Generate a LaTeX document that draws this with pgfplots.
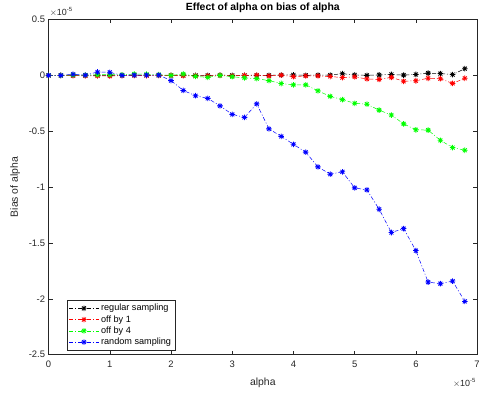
\documentclass[border=0pt]{standalone}
\usepackage{pgfplots}
\pgfplotsset{compat=1.18}
\usepackage{pgfplotstable}
\usepackage{fontspec}
\setmainfont{Liberation Sans}
\usetikzlibrary{calc}

\definecolor{axgray}{rgb}{0.15,0.15,0.15}

% eight-spoke asterisk marker
\pgfdeclareplotmark{matstar}{%
  \pgfpathmoveto{\pgfqpoint{-\pgfplotmarksize}{0pt}}%
  \pgfpathlineto{\pgfqpoint{\pgfplotmarksize}{0pt}}%
  \pgfpathmoveto{\pgfqpoint{0pt}{-\pgfplotmarksize}}%
  \pgfpathlineto{\pgfqpoint{0pt}{\pgfplotmarksize}}%
  \pgfpathmoveto{\pgfqpoint{-0.707\pgfplotmarksize}{-0.707\pgfplotmarksize}}%
  \pgfpathlineto{\pgfqpoint{0.707\pgfplotmarksize}{0.707\pgfplotmarksize}}%
  \pgfpathmoveto{\pgfqpoint{-0.707\pgfplotmarksize}{0.707\pgfplotmarksize}}%
  \pgfpathlineto{\pgfqpoint{0.707\pgfplotmarksize}{-0.707\pgfplotmarksize}}%
  \pgfusepathqstroke}

% bias of alpha (units of 1e-5) against alpha (units of 1e-5)
\pgfplotstableread{
x y
0.0 0
0.2 0
0.4 0
0.6 0
0.8 0
1.0 0
1.2 0
1.4 0
1.6 0
1.8 0
2.0 0
2.2 0
2.4 0
2.6 0
2.8 0.002
3.0 0
3.2 0
3.4 0
3.6 0
3.8 0.003
4.0 0.004
4.2 0
4.4 0.003
4.6 0.003
4.8 0.015
5.0 0.004
5.2 0
5.4 0.004
5.6 0.008
5.8 0.002
6.0 0.008
6.2 0.020
6.4 0.016
6.6 0.007
6.8 0.060
}\regular

\pgfplotstableread{
x y
0.0 0
0.2 0
0.4 -0.003
0.6 -0.004
0.8 -0.005
1.0 -0.006
1.2 -0.002
1.4 0
1.6 -0.002
1.8 0
2.0 0
2.2 -0.003
2.4 -0.005
2.6 -0.005
2.8 0
3.0 -0.005
3.2 0
3.4 0.002
3.6 -0.005
3.8 0.002
4.0 -0.012
4.2 -0.005
4.4 -0.005
4.6 -0.010
4.8 -0.020
5.0 -0.014
5.2 -0.032
5.4 -0.036
5.6 -0.018
5.8 -0.053
6.0 -0.048
6.2 -0.026
6.4 -0.030
6.6 -0.072
6.8 -0.026
}\offone

\pgfplotstableread{
x y
0.0 0
0.2 0
0.4 0.004
0.6 0.002
0.8 0.006
1.0 0.006
1.2 0.005
1.4 0.012
1.6 0.010
1.8 0.006
2.0 0
2.2 0.012
2.4 -0.009
2.6 -0.018
2.8 0
3.0 -0.012
3.2 -0.023
3.4 -0.029
3.6 -0.047
3.8 -0.073
4.0 -0.085
4.2 -0.085
4.4 -0.138
4.6 -0.188
4.8 -0.217
5.0 -0.250
5.2 -0.258
5.4 -0.311
5.6 -0.355
5.8 -0.434
6.0 -0.487
6.2 -0.490
6.4 -0.581
6.6 -0.646
6.8 -0.670
}\offfour

\pgfplotstableread{
x y
0.0 0
0.2 0
0.4 0.010
0.6 0.002
0.8 0.030
1.0 0.027
1.2 0
1.4 0.003
1.6 0.003
1.8 0.003
2.0 -0.047
2.2 -0.135
2.4 -0.182
2.6 -0.206
2.8 -0.273
3.0 -0.349
3.2 -0.376
3.4 -0.255
3.6 -0.479
3.8 -0.546
4.0 -0.617
4.2 -0.687
4.4 -0.819
4.6 -0.884
4.8 -0.863
5.0 -1.007
5.2 -1.025
5.4 -1.198
5.6 -1.406
5.8 -1.371
6.0 -1.568
6.2 -1.850
6.4 -1.864
6.6 -1.841
6.8 -2.023
}\randomsamp

\begin{document}
\begin{tikzpicture}
\begin{axis}[
  name=ax,
  scale only axis,
  width=432pt, height=338pt,
  xmin=0, xmax=7, ymin=-2.5, ymax=0.5,
  xtick={0,1,...,7},
  ytick={-2.5,-2,-1.5,-1,-0.5,0,0.5},
  yticklabels={-2.5,-2,-1.5,-1,-0.5,0,0.5},
  xticklabels={0,1,2,3,4,5,6,7},
  tick align=inside,
  major tick length=4pt,
  axis line style={axgray, line width=0.5pt},
  every tick/.style={axgray, line width=0.5pt},
  tick label style={font=\fontsize{9.5}{10}\selectfont, text=axgray},
  xticklabel style={yshift=-3pt},
  title={\textbf{Effect of alpha on bias of alpha}},
  title style={font=\fontsize{10.5}{12}\selectfont, yshift=-3pt},
  xlabel={alpha}, ylabel={Bias of alpha},
  label style={font=\fontsize{10.5}{12}\selectfont, text=axgray},
  xlabel style={yshift=-3pt},
  ylabel style={yshift=2pt},
  legend cell align=left,
  legend style={at={(0.042,0.013)}, anchor=south west,
    draw=axgray, line width=0.5pt, font=\fontsize{9.2}{10}\selectfont,
    row sep=-0.8pt, inner sep=2pt},
  legend image code/.code={%
    \draw[mark repeat=2, mark phase=2]
      plot coordinates {(0pt,0pt) (15pt,0pt) (30pt,0pt)};},
  every axis plot/.append style={line width=0.5pt,
    dash pattern=on 4pt off 2pt on 1pt off 2pt,
    mark=matstar, mark size=2.8pt,
    mark options={solid, line width=0.8pt}},
]
\addplot[black] table {\regular};
\addlegendentry{regular sampling}
\addplot[red] table {\offone};
\addlegendentry{off by 1}
\addplot[green] table {\offfour};
\addlegendentry{off by 4}
\addplot[blue] table {\randomsamp};
\addlegendentry{random sampling}
\end{axis}
\node[anchor=south west, inner sep=0pt, font=\fontsize{9}{10}\selectfont, text=axgray]
  at ($(ax.north west)+(1pt,3pt)$) {$\times$10\textsuperscript{-5}};
\node[anchor=north east, inner sep=0pt, font=\fontsize{9}{10}\selectfont, text=axgray]
  at ($(ax.south east)+(-1pt,-24pt)$) {$\times$10\textsuperscript{-5}};
\path[use as bounding box] ($(ax.south west)+(-49pt,-39pt)$) rectangle ($(ax.north east)+(2pt,17pt)$);
\end{tikzpicture}
\end{document}
